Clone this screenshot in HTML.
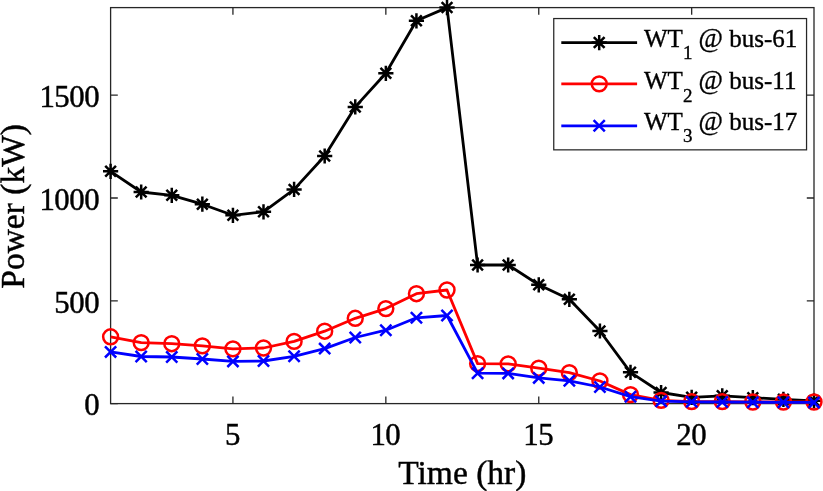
<!DOCTYPE html>
<html><head><meta charset="utf-8"><title>Power plot</title>
<style>html,body{margin:0;padding:0;background:#fff;width:823px;height:491px;overflow:hidden;}</style>
</head><body>
<svg width="823" height="491" viewBox="0 0 823 491" style="display:block;will-change:transform"><rect width="823" height="491" fill="#fff"/><g stroke="#262626" stroke-width="1.3" fill="none"><rect x="110.6" y="7.6" width="703.40" height="396.00" /><path d="M110.6,403.6h7.2M814.0,403.6h-7.2" /><path d="M110.6,300.8h7.2M814.0,300.8h-7.2" /><path d="M110.6,198.0h7.2M814.0,198.0h-7.2" /><path d="M110.6,95.2h7.2M814.0,95.2h-7.2" /><path d="M232.93,403.6v-7.2M232.93,7.6v7.2" /><path d="M385.84,403.6v-7.2M385.84,7.6v7.2" /><path d="M538.76,403.6v-7.2M538.76,7.6v7.2" /><path d="M691.67,403.6v-7.2M691.67,7.6v7.2" /></g><polyline points="110.60,171.30 141.18,192.00 171.77,195.30 202.35,204.20 232.93,215.30 263.51,211.80 294.10,189.40 324.68,156.00 355.26,106.90 385.84,73.30 416.43,20.80 447.01,7.60 477.59,265.00 508.17,265.00 538.76,284.80 569.34,299.30 599.92,331.00 630.50,372.30 661.09,392.50 691.67,397.30 722.25,395.80 752.83,397.70 783.42,399.30 814.00,400.80" fill="none" stroke="#000" stroke-width="2.8" stroke-linejoin="round" /><g stroke="#000" stroke-width="2.5" fill="none"><path d="M103.00,171.30H118.20M110.60,163.70V178.90M105.23,165.93L115.97,176.67M105.23,176.67L115.97,165.93" /><path d="M133.58,192.00H148.78M141.18,184.40V199.60M135.81,186.63L146.56,197.37M135.81,197.37L146.56,186.63" /><path d="M164.17,195.30H179.37M171.77,187.70V202.90M166.39,189.93L177.14,200.67M166.39,200.67L177.14,189.93" /><path d="M194.75,204.20H209.95M202.35,196.60V211.80M196.97,198.83L207.72,209.57M196.97,209.57L207.72,198.83" /><path d="M225.33,215.30H240.53M232.93,207.70V222.90M227.56,209.93L238.30,220.67M227.56,220.67L238.30,209.93" /><path d="M255.91,211.80H271.11M263.51,204.20V219.40M258.14,206.43L268.89,217.17M258.14,217.17L268.89,206.43" /><path d="M286.50,189.40H301.70M294.10,181.80V197.00M288.72,184.03L299.47,194.77M288.72,194.77L299.47,184.03" /><path d="M317.08,156.00H332.28M324.68,148.40V163.60M319.30,150.63L330.05,161.37M319.30,161.37L330.05,150.63" /><path d="M347.66,106.90H362.86M355.26,99.30V114.50M349.89,101.53L360.63,112.27M349.89,112.27L360.63,101.53" /><path d="M378.24,73.30H393.44M385.84,65.70V80.90M380.47,67.93L391.22,78.67M380.47,78.67L391.22,67.93" /><path d="M408.83,20.80H424.03M416.43,13.20V28.40M411.05,15.43L421.80,26.17M411.05,26.17L421.80,15.43" /><path d="M439.41,7.60H454.61M447.01,0.00V15.20M441.63,2.23L452.38,12.97M441.63,12.97L452.38,2.23" /><path d="M469.99,265.00H485.19M477.59,257.40V272.60M472.22,259.63L482.97,270.37M472.22,270.37L482.97,259.63" /><path d="M500.57,265.00H515.77M508.17,257.40V272.60M502.80,259.63L513.55,270.37M502.80,270.37L513.55,259.63" /><path d="M531.16,284.80H546.36M538.76,277.20V292.40M533.38,279.43L544.13,290.17M533.38,290.17L544.13,279.43" /><path d="M561.74,299.30H576.94M569.34,291.70V306.90M563.97,293.93L574.71,304.67M563.97,304.67L574.71,293.93" /><path d="M592.32,331.00H607.52M599.92,323.40V338.60M594.55,325.63L605.30,336.37M594.55,336.37L605.30,325.63" /><path d="M622.90,372.30H638.10M630.50,364.70V379.90M625.13,366.93L635.88,377.67M625.13,377.67L635.88,366.93" /><path d="M653.49,392.50H668.69M661.09,384.90V400.10M655.71,387.13L666.46,397.87M655.71,397.87L666.46,387.13" /><path d="M684.07,397.30H699.27M691.67,389.70V404.90M686.30,391.93L697.04,402.67M686.30,402.67L697.04,391.93" /><path d="M714.65,395.80H729.85M722.25,388.20V403.40M716.88,390.43L727.63,401.17M716.88,401.17L727.63,390.43" /><path d="M745.23,397.70H760.43M752.83,390.10V405.30M747.46,392.33L758.21,403.07M747.46,403.07L758.21,392.33" /><path d="M775.82,399.30H791.02M783.42,391.70V406.90M778.04,393.93L788.79,404.67M778.04,404.67L788.79,393.93" /><path d="M806.40,400.80H821.60M814.00,393.20V408.40M808.63,395.43L819.37,406.17M808.63,406.17L819.37,395.43" /></g><polyline points="110.60,336.80 141.18,342.60 171.77,343.70 202.35,345.90 232.93,348.90 263.51,348.00 294.10,341.40 324.68,331.20 355.26,318.30 385.84,308.60 416.43,293.70 447.01,290.00 477.59,363.60 508.17,363.90 538.76,368.20 569.34,372.70 599.92,381.00 630.50,394.60 661.09,400.40 691.67,401.60 722.25,401.60 752.83,402.00 783.42,402.00 814.00,402.00" fill="none" stroke="#f00" stroke-width="2.8" stroke-linejoin="round" /><g stroke="#f00" stroke-width="2.5" fill="none"><circle cx="110.60" cy="336.80" r="7.45" /><circle cx="141.18" cy="342.60" r="7.45" /><circle cx="171.77" cy="343.70" r="7.45" /><circle cx="202.35" cy="345.90" r="7.45" /><circle cx="232.93" cy="348.90" r="7.45" /><circle cx="263.51" cy="348.00" r="7.45" /><circle cx="294.10" cy="341.40" r="7.45" /><circle cx="324.68" cy="331.20" r="7.45" /><circle cx="355.26" cy="318.30" r="7.45" /><circle cx="385.84" cy="308.60" r="7.45" /><circle cx="416.43" cy="293.70" r="7.45" /><circle cx="447.01" cy="290.00" r="7.45" /><circle cx="477.59" cy="363.60" r="7.45" /><circle cx="508.17" cy="363.90" r="7.45" /><circle cx="538.76" cy="368.20" r="7.45" /><circle cx="569.34" cy="372.70" r="7.45" /><circle cx="599.92" cy="381.00" r="7.45" /><circle cx="630.50" cy="394.60" r="7.45" /><circle cx="661.09" cy="400.40" r="7.45" /><circle cx="691.67" cy="401.60" r="7.45" /><circle cx="722.25" cy="401.60" r="7.45" /><circle cx="752.83" cy="402.00" r="7.45" /><circle cx="783.42" cy="402.00" r="7.45" /><circle cx="814.00" cy="402.00" r="7.45" /></g><polyline points="110.60,351.90 141.18,356.50 171.77,357.00 202.35,359.00 232.93,361.40 263.51,361.00 294.10,356.30 324.68,348.60 355.26,337.50 385.84,330.20 416.43,317.80 447.01,315.50 477.59,373.20 508.17,373.40 538.76,377.90 569.34,380.80 599.92,387.00 630.50,396.70 661.09,401.20 691.67,401.80 722.25,402.00 752.83,402.20 783.42,402.30 814.00,402.40" fill="none" stroke="#00f" stroke-width="2.8" stroke-linejoin="round" /><g stroke="#00f" stroke-width="2.5" fill="none"><path d="M105.00,346.30L116.20,357.50M105.00,357.50L116.20,346.30" /><path d="M135.58,350.90L146.78,362.10M135.58,362.10L146.78,350.90" /><path d="M166.17,351.40L177.37,362.60M166.17,362.60L177.37,351.40" /><path d="M196.75,353.40L207.95,364.60M196.75,364.60L207.95,353.40" /><path d="M227.33,355.80L238.53,367.00M227.33,367.00L238.53,355.80" /><path d="M257.91,355.40L269.11,366.60M257.91,366.60L269.11,355.40" /><path d="M288.50,350.70L299.70,361.90M288.50,361.90L299.70,350.70" /><path d="M319.08,343.00L330.28,354.20M319.08,354.20L330.28,343.00" /><path d="M349.66,331.90L360.86,343.10M349.66,343.10L360.86,331.90" /><path d="M380.24,324.60L391.44,335.80M380.24,335.80L391.44,324.60" /><path d="M410.83,312.20L422.03,323.40M410.83,323.40L422.03,312.20" /><path d="M441.41,309.90L452.61,321.10M441.41,321.10L452.61,309.90" /><path d="M471.99,367.60L483.19,378.80M471.99,378.80L483.19,367.60" /><path d="M502.57,367.80L513.77,379.00M502.57,379.00L513.77,367.80" /><path d="M533.16,372.30L544.36,383.50M533.16,383.50L544.36,372.30" /><path d="M563.74,375.20L574.94,386.40M563.74,386.40L574.94,375.20" /><path d="M594.32,381.40L605.52,392.60M594.32,392.60L605.52,381.40" /><path d="M624.90,391.10L636.10,402.30M624.90,402.30L636.10,391.10" /><path d="M655.49,395.60L666.69,406.80M655.49,406.80L666.69,395.60" /><path d="M686.07,396.20L697.27,407.40M686.07,407.40L697.27,396.20" /><path d="M716.65,396.40L727.85,407.60M716.65,407.60L727.85,396.40" /><path d="M747.23,396.60L758.43,407.80M747.23,407.80L758.43,396.60" /><path d="M777.82,396.70L789.02,407.90M777.82,407.90L789.02,396.70" /><path d="M808.40,396.80L819.60,408.00M808.40,408.00L819.60,396.80" /></g><g font-family='"Liberation Serif", serif' font-size="30.8" fill="#000" stroke="#000" stroke-width="0.45" letter-spacing="-0.45"><text x="99.2" y="415.4" text-anchor="end">0</text><text x="99.2" y="312.6" text-anchor="end">500</text><text x="99.2" y="209.8" text-anchor="end">1000</text><text x="99.2" y="107.0" text-anchor="end">1500</text><text x="232.43" y="445.3" text-anchor="middle">5</text><text x="385.34" y="445.3" text-anchor="middle">10</text><text x="538.26" y="445.3" text-anchor="middle">15</text><text x="691.17" y="445.3" text-anchor="middle">20</text></g><text x="462.3" y="484" text-anchor="middle" font-family='"Liberation Serif", serif' font-size="33.5" fill="#000" stroke="#000" stroke-width="0.45">Time (hr)</text><text transform="translate(23.5,206.4) rotate(-90)" text-anchor="middle" font-family='"Liberation Serif", serif' font-size="33.5" fill="#000" stroke="#000" stroke-width="0.45">Power (kW)</text><rect x="553.75" y="18.55" width="252.8" height="131.3" fill="#fff" stroke="#262626" stroke-width="1.25" /><path d="M561.3,42.6H637.1" stroke="#000" stroke-width="2.8" /><g stroke="#000" stroke-width="2.5" fill="none"><path d="M591.60,42.60H606.80M599.20,35.00V50.20M593.83,37.23L604.57,47.97M593.83,47.97L604.57,37.23" /></g><path d="M561.3,83.9H637.1" stroke="#f00" stroke-width="2.8" /><g stroke="#f00" stroke-width="2.5" fill="none"><circle cx="599.20" cy="83.90" r="7.45" /></g><path d="M561.3,125.8H637.1" stroke="#00f" stroke-width="2.8" /><g stroke="#00f" stroke-width="2.5" fill="none"><path d="M593.60,120.20L604.80,131.40M593.60,131.40L604.80,120.20" /></g><text y="47.0" font-family='"Liberation Serif", serif' font-size="25" fill="#000" stroke="#000" stroke-width="0.36"><tspan x="644.0">WT</tspan><tspan x="683.0" y="58.8" font-size="19.0">1</tspan><tspan x="698.5" y="47.0" font-size="26.5">@</tspan><tspan x="729.3">bus-61</tspan></text><text y="88.8" font-family='"Liberation Serif", serif' font-size="25" fill="#000" stroke="#000" stroke-width="0.36"><tspan x="644.0">WT</tspan><tspan x="683.0" y="101.8" font-size="19.0">2</tspan><tspan x="698.5" y="88.8" font-size="26.5">@</tspan><tspan x="729.3">bus-11</tspan></text><text y="130.4" font-family='"Liberation Serif", serif' font-size="25" fill="#000" stroke="#000" stroke-width="0.36"><tspan x="644.0">WT</tspan><tspan x="683.0" y="141.9" font-size="19.0">3</tspan><tspan x="698.5" y="130.4" font-size="26.5">@</tspan><tspan x="729.3">bus-17</tspan></text></svg>
</body></html>
